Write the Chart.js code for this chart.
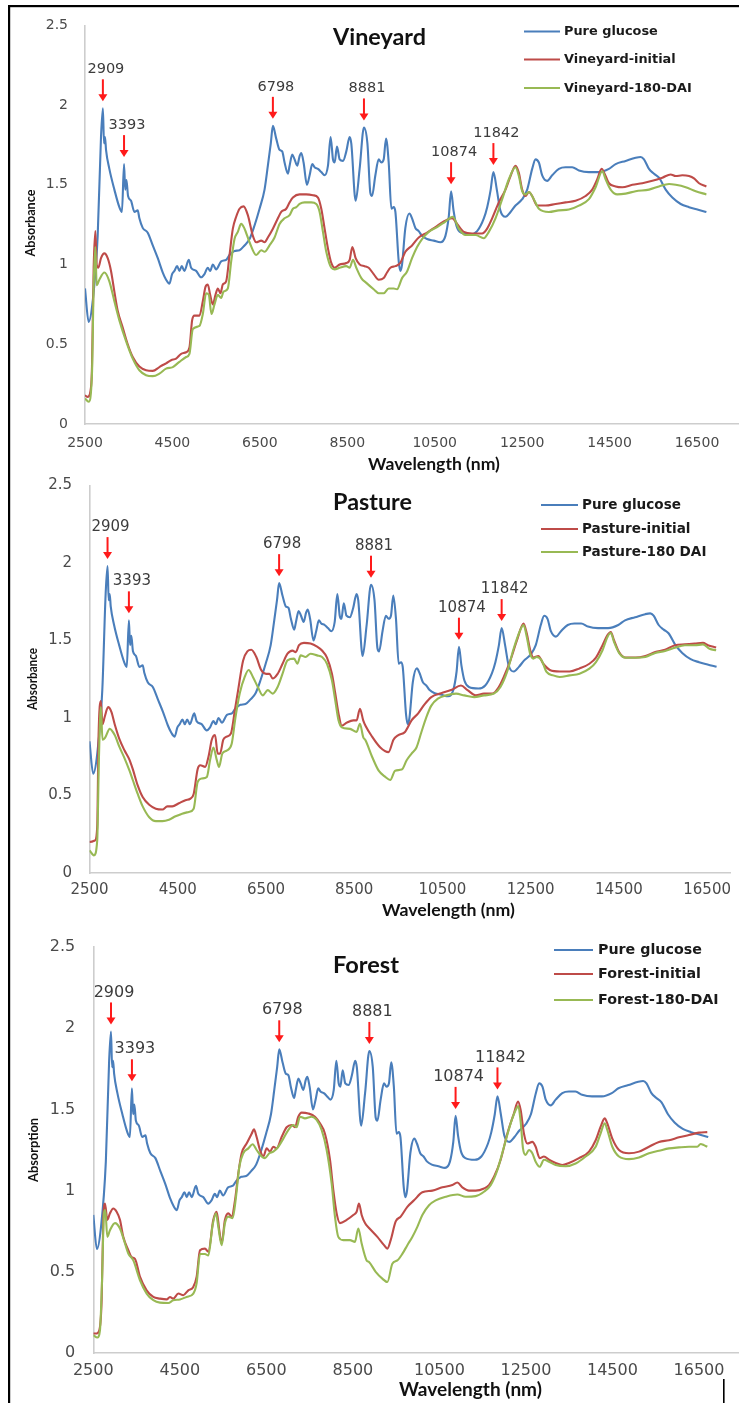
<!DOCTYPE html>
<html>
<head>
<meta charset="utf-8">
<script src="https://cdn.jsdelivr.net/npm/chart.js@4.4.1/dist/chart.umd.min.js"></script>
<style>
  html, body { margin: 0; padding: 0; background: #ffffff; }
  #page { position: relative; width: 739px; height: 1403px; overflow: hidden; background: #ffffff; }
  #page canvas { position: absolute; left: 0; top: 0; }
</style>
</head>
<body>
<div id="page">
  <canvas id="vineyard" width="739" height="1403"></canvas>
  <canvas id="pasture" width="739" height="1403"></canvas>
  <canvas id="forest" width="739" height="1403"></canvas>
</div>
<script>
// ---- axis ticks and marked glucose bands (nm) ----
const wavelengthTicks = [2500, 4500, 6500, 8500, 10500, 12500, 14500, 16500];
const absorbanceTicks = [0, 0.5, 1, 1.5, 2, 2.5];
const peakWavelengths = [2909, 3393, 6798, 8881, 10874, 11842];

// ---- spectra: [wavelength (nm), absorbance] ----
const pureGlucose = [
  [2500,0.85],[2584,0.64],[2676,0.77],[2790,1.18],[2866,1.80],[2909,1.98],[2935,1.76],[2958,1.80],
  [2981,1.72],[3057,1.60],[3172,1.47],[3286,1.36],[3345,1.33],[3393,1.63],[3420,1.47],[3448,1.53],
  [3485,1.43],[3553,1.40],[3630,1.33],[3706,1.34],[3744,1.29],[3820,1.23],[3935,1.20],[4050,1.12],
  [4165,1.04],[4279,0.95],[4355,0.905],[4431,0.88],[4492,0.94],[4545,0.96],[4607,0.99],[4660,0.96],
  [4714,0.99],[4775,0.96],[4874,1.03],[4927,0.98],[5042,0.96],[5157,0.92],[5233,0.94],[5309,0.98],
  [5363,0.96],[5424,1.00],[5500,0.97],[5615,1.02],[5729,1.03],[5805,1.06],[5920,1.085],[6035,1.09],
  [6149,1.12],[6264,1.16],[6378,1.245],[6493,1.35],[6607,1.47],[6683,1.62],[6750,1.76],[6798,1.87],
  [6874,1.79],[6950,1.72],[7011,1.71],[7065,1.64],[7141,1.57],[7180,1.62],[7241,1.69],[7294,1.66],
  [7355,1.62],[7409,1.68],[7447,1.70],[7500,1.64],[7577,1.50],[7638,1.56],[7699,1.63],[7752,1.61],
  [7829,1.60],[7905,1.58],[7981,1.56],[8058,1.62],[8118,1.80],[8172,1.66],[8210,1.64],[8264,1.74],
  [8325,1.66],[8401,1.65],[8477,1.71],[8553,1.80],[8591,1.76],[8691,1.40],[8782,1.60],[8881,1.86],
  [8960,1.76],[9027,1.45],[9065,1.43],[9142,1.56],[9218,1.66],[9279,1.64],[9333,1.66],[9386,1.79],
  [9447,1.64],[9508,1.35],[9561,1.36],[9600,1.33],[9676,1.02],[9714,0.96],[9752,1.00],[9828,1.23],
  [9920,1.32],[9981,1.29],[10057,1.23],[10134,1.21],[10210,1.18],[10325,1.16],[10478,1.15],[10630,1.14],
  [10745,1.18],[10821,1.30],[10874,1.46],[10930,1.34],[11000,1.24],[11100,1.20],[11318,1.19],[11470,1.21],
  [11623,1.29],[11700,1.36],[11780,1.47],[11842,1.58],[11920,1.47],[12000,1.34],[12119,1.30],[12234,1.33],
  [12348,1.37],[12500,1.41],[12615,1.47],[12729,1.60],[12806,1.66],[12882,1.64],[12958,1.56],[13073,1.525],
  [13187,1.56],[13340,1.60],[13492,1.61],[13645,1.61],[13798,1.59],[14027,1.58],[14256,1.58],[14485,1.60],
  [14638,1.63],[14867,1.65],[15096,1.67],[15210,1.675],[15287,1.66],[15401,1.60],[15516,1.57],[15630,1.545],
  [15783,1.47],[15935,1.42],[16126,1.38],[16317,1.36],[16508,1.345],[16714,1.33]
];

const vineyardInitial = [
  [2500,0.18],[2561,0.17],[2637,0.23],[2660,0.36],[2698,0.98],[2737,1.21],[2767,1.00],[2805,0.98],
  [2866,1.04],[2943,1.07],[3019,1.04],[3095,0.96],[3172,0.83],[3248,0.71],[3363,0.605],[3477,0.50],
  [3592,0.42],[3744,0.36],[3897,0.337],[4050,0.333],[4202,0.357],[4279,0.37],[4355,0.38],[4470,0.40],
  [4584,0.41],[4699,0.44],[4813,0.45],[4889,0.48],[4950,0.65],[5004,0.68],[5118,0.68],[5195,0.77],
  [5256,0.86],[5309,0.875],[5363,0.81],[5424,0.75],[5485,0.81],[5538,0.85],[5599,0.82],[5653,0.875],
  [5729,0.895],[5806,1.06],[5882,1.225],[5958,1.30],[6035,1.35],[6126,1.365],[6225,1.31],[6340,1.18],
  [6416,1.14],[6531,1.15],[6607,1.14],[6683,1.17],[6798,1.225],[6912,1.29],[6989,1.33],[7103,1.35],
  [7180,1.39],[7256,1.42],[7409,1.44],[7561,1.44],[7714,1.435],[7829,1.42],[7905,1.35],[7981,1.225],
  [8058,1.10],[8134,1.01],[8210,0.98],[8325,1.00],[8477,1.01],[8554,1.03],[8615,1.11],[8691,1.04],
  [8783,1.00],[8897,0.99],[8989,0.98],[9103,0.94],[9218,0.905],[9333,0.915],[9409,0.95],[9486,0.98],
  [9600,0.99],[9714,1.01],[9828,1.08],[9981,1.12],[10134,1.17],[10325,1.20],[10516,1.235],[10707,1.27],
  [10898,1.29],[11012,1.255],[11165,1.205],[11355,1.195],[11584,1.195],[11699,1.225],[11813,1.29],[11966,1.39],
  [12119,1.47],[12234,1.555],[12348,1.62],[12424,1.575],[12500,1.47],[12577,1.43],[12653,1.455],[12729,1.43],
  [12844,1.37],[13035,1.37],[13264,1.38],[13492,1.39],[13721,1.40],[13950,1.43],[14103,1.47],[14218,1.535],
  [14317,1.60],[14409,1.555],[14485,1.51],[14638,1.49],[14791,1.485],[15020,1.50],[15248,1.51],[15478,1.525],
  [15707,1.545],[15897,1.565],[16012,1.555],[16164,1.56],[16317,1.555],[16431,1.54],[16546,1.51],[16714,1.49]
];

const vineyard180DAI = [
  [2500,0.16],[2584,0.14],[2660,0.32],[2698,0.87],[2737,1.11],[2767,0.87],[2828,0.905],[2943,0.95],
  [3057,0.895],[3172,0.77],[3286,0.65],[3439,0.52],[3592,0.41],[3744,0.337],[3897,0.306],[4050,0.30],
  [4202,0.316],[4355,0.347],[4508,0.357],[4660,0.39],[4813,0.42],[4889,0.44],[4966,0.595],[5118,0.615],
  [5195,0.69],[5271,0.82],[5332,0.81],[5393,0.69],[5462,0.75],[5538,0.81],[5615,0.79],[5668,0.83],
  [5767,0.85],[5844,1.02],[5920,1.16],[5996,1.205],[6073,1.255],[6149,1.225],[6264,1.14],[6416,1.06],
  [6531,1.09],[6607,1.08],[6721,1.12],[6836,1.17],[6951,1.255],[7065,1.29],[7180,1.31],[7256,1.35],
  [7333,1.36],[7409,1.38],[7523,1.39],[7676,1.39],[7790,1.38],[7867,1.33],[7943,1.205],[8019,1.08],
  [8134,0.98],[8210,0.97],[8325,0.98],[8477,0.99],[8554,0.98],[8630,1.03],[8706,0.98],[8821,0.915],
  [8935,0.885],[9103,0.845],[9218,0.82],[9333,0.82],[9447,0.85],[9562,0.85],[9638,0.845],[9752,0.915],
  [9867,0.957],[9981,1.04],[10096,1.11],[10210,1.16],[10363,1.205],[10554,1.235],[10745,1.27],[10913,1.30],
  [11050,1.225],[11203,1.185],[11432,1.185],[11623,1.165],[11737,1.205],[11890,1.29],[12043,1.41],[12195,1.535],
  [12348,1.61],[12424,1.555],[12500,1.46],[12577,1.44],[12653,1.455],[12767,1.41],[12882,1.35],[13111,1.33],
  [13340,1.34],[13569,1.345],[13798,1.37],[14027,1.41],[14180,1.485],[14333,1.585],[14409,1.535],[14524,1.47],
  [14676,1.44],[14867,1.445],[15096,1.46],[15401,1.47],[15630,1.49],[15859,1.505],[16012,1.50],[16241,1.485],
  [16470,1.46],[16714,1.44]
];

const pastureInitial = [
  [2500,0.20],[2623,0.21],[2675,0.30],[2705,0.88],[2757,1.11],[2795,0.96],[2847,1.01],[2922,1.07],
  [2996,1.04],[3071,0.96],[3183,0.86],[3295,0.79],[3407,0.73],[3481,0.67],[3593,0.565],[3705,0.49],
  [3854,0.44],[4003,0.415],[4153,0.41],[4265,0.43],[4376,0.43],[4526,0.45],[4675,0.47],[4787,0.48],
  [4861,0.51],[4951,0.67],[5011,0.695],[5123,0.685],[5197,0.75],[5272,0.86],[5346,0.89],[5406,0.77],
  [5458,0.77],[5533,0.86],[5608,0.88],[5705,0.90],[5795,1.05],[5869,1.18],[5981,1.37],[6078,1.43],
  [6167,1.44],[6279,1.395],[6391,1.31],[6503,1.285],[6578,1.285],[6652,1.255],[6764,1.285],[6876,1.35],
  [6988,1.415],[7100,1.435],[7175,1.425],[7249,1.47],[7361,1.485],[7510,1.48],[7659,1.46],[7771,1.435],
  [7883,1.39],[7995,1.285],[8070,1.16],[8144,1.03],[8219,0.95],[8331,0.97],[8480,0.985],[8555,0.985],
  [8630,1.06],[8704,0.985],[8756,0.95],[8905,0.88],[9092,0.81],[9278,0.78],[9390,0.86],[9502,0.89],
  [9651,0.91],[9800,0.985],[9950,1.03],[10099,1.09],[10248,1.135],[10472,1.16],[10696,1.18],[10920,1.21],
  [11069,1.18],[11256,1.146],[11442,1.157],[11629,1.157],[11778,1.20],[11890,1.265],[12039,1.37],[12188,1.50],
  [12338,1.61],[12412,1.545],[12487,1.44],[12562,1.39],[12674,1.40],[12786,1.35],[12935,1.31],[13159,1.30],
  [13383,1.30],[13607,1.32],[13831,1.35],[13980,1.39],[14129,1.47],[14241,1.535],[14316,1.555],[14391,1.50],
  [14503,1.425],[14652,1.39],[14876,1.39],[15100,1.40],[15324,1.425],[15547,1.44],[15771,1.47],[15995,1.475],
  [16219,1.48],[16405,1.485],[16517,1.47],[16704,1.455]
];

const pasture180DAI = [
  [2500,0.146],[2601,0.114],[2675,0.21],[2713,0.73],[2757,1.07],[2795,0.86],[2847,0.87],[2959,0.93],
  [3071,0.89],[3183,0.81],[3295,0.74],[3407,0.66],[3481,0.60],[3593,0.51],[3705,0.43],[3854,0.36],
  [4003,0.335],[4153,0.335],[4302,0.344],[4451,0.366],[4600,0.383],[4750,0.394],[4861,0.415],[4951,0.587],
  [5048,0.61],[5160,0.62],[5234,0.73],[5309,0.81],[5384,0.73],[5436,0.685],[5510,0.77],[5608,0.79],
  [5720,0.83],[5809,1.005],[5906,1.16],[6018,1.265],[6107,1.31],[6204,1.265],[6316,1.20],[6428,1.146],
  [6540,1.18],[6652,1.157],[6764,1.20],[6876,1.286],[6988,1.372],[7137,1.383],[7212,1.35],[7287,1.404],
  [7399,1.394],[7510,1.415],[7659,1.404],[7771,1.394],[7883,1.35],[7995,1.243],[8070,1.114],[8144,0.985],
  [8219,0.94],[8406,0.93],[8555,0.91],[8630,0.963],[8704,0.877],[8756,0.856],[8905,0.75],[9055,0.66],
  [9204,0.62],[9316,0.60],[9428,0.66],[9577,0.667],[9689,0.727],[9800,0.77],[9912,0.81],[10024,0.91],
  [10136,1.006],[10248,1.08],[10397,1.125],[10584,1.146],[10808,1.157],[10994,1.146],[11218,1.135],[11442,1.146],
  [11666,1.157],[11815,1.20],[11965,1.297],[12114,1.447],[12263,1.566],[12338,1.60],[12412,1.523],[12487,1.415],
  [12562,1.383],[12636,1.394],[12748,1.372],[12860,1.297],[13010,1.275],[13159,1.265],[13383,1.275],[13607,1.286],
  [13831,1.318],[13980,1.361],[14129,1.437],[14241,1.523],[14316,1.548],[14391,1.49],[14503,1.42],[14652,1.389],
  [14876,1.389],[15100,1.394],[15324,1.42],[15547,1.432],[15771,1.454],[15995,1.469],[16219,1.469],[16405,1.475],
  [16554,1.447],[16704,1.437]
];

const forestInitial = [
  [2500,0.12],[2577,0.12],[2639,0.14],[2693,0.325],[2731,0.82],[2770,0.92],[2824,0.82],[2885,0.86],
  [2962,0.89],[3039,0.87],[3116,0.82],[3193,0.715],[3309,0.633],[3386,0.59],[3463,0.58],[3578,0.47],
  [3733,0.386],[3887,0.345],[4041,0.335],[4195,0.33],[4272,0.345],[4349,0.335],[4465,0.366],[4580,0.356],
  [4696,0.386],[4812,0.407],[4889,0.47],[4966,0.633],[5081,0.643],[5158,0.623],[5274,0.82],[5351,0.87],
  [5412,0.756],[5466,0.674],[5543,0.82],[5620,0.86],[5698,0.84],[5775,0.94],[5852,1.106],[5929,1.23],
  [6044,1.29],[6160,1.35],[6214,1.377],[6275,1.33],[6353,1.25],[6430,1.21],[6507,1.26],[6584,1.24],
  [6661,1.27],[6738,1.26],[6853,1.33],[6969,1.39],[7084,1.404],[7161,1.39],[7238,1.455],[7316,1.48],
  [7470,1.475],[7624,1.455],[7739,1.414],[7855,1.35],[7971,1.19],[8048,1.003],[8125,0.86],[8202,0.80],
  [8356,0.82],[8510,0.85],[8587,0.87],[8641,0.92],[8703,0.85],[8780,0.80],[8873,0.77],[9066,0.715],
  [9220,0.664],[9297,0.643],[9374,0.695],[9490,0.81],[9605,0.84],[9759,0.90],[9913,0.94],[10106,0.99],
  [10337,1.00],[10568,1.02],[10799,1.034],[10915,1.05],[11030,1.02],[11184,1.00],[11338,1.00],[11531,1.013],
  [11646,1.034],[11762,1.085],[11916,1.19],[12070,1.35],[12224,1.476],[12317,1.548],[12378,1.496],[12455,1.35],
  [12532,1.29],[12648,1.30],[12725,1.27],[12817,1.20],[12917,1.21],[13033,1.19],[13187,1.17],[13341,1.157],
  [13495,1.17],[13726,1.20],[13958,1.24],[14112,1.31],[14227,1.394],[14320,1.445],[14381,1.414],[14497,1.32],
  [14651,1.25],[14882,1.23],[15113,1.24],[15344,1.27],[15575,1.30],[15806,1.31],[16037,1.328],[16268,1.342],
  [16499,1.357],[16692,1.36]
];

const forest180DAI = [
  [2500,0.11],[2592,0.095],[2654,0.14],[2700,0.43],[2747,0.86],[2777,0.88],[2824,0.715],[2885,0.756],
  [3001,0.80],[3116,0.767],[3209,0.695],[3309,0.613],[3425,0.57],[3579,0.448],[3733,0.366],[3887,0.325],
  [4041,0.31],[4234,0.308],[4349,0.325],[4503,0.33],[4657,0.345],[4812,0.366],[4889,0.43],[4966,0.61],
  [5081,0.61],[5158,0.60],[5258,0.787],[5335,0.86],[5389,0.777],[5466,0.664],[5543,0.80],[5620,0.84],
  [5721,0.83],[5798,0.96],[5875,1.147],[5967,1.23],[6083,1.26],[6183,1.285],[6275,1.25],[6391,1.21],
  [6468,1.20],[6568,1.23],[6661,1.24],[6776,1.27],[6892,1.32],[7007,1.373],[7123,1.404],[7200,1.39],
  [7277,1.455],[7393,1.445],[7547,1.455],[7662,1.435],[7778,1.373],[7894,1.25],[8009,1.044],[8086,0.84],
  [8163,0.715],[8279,0.695],[8433,0.695],[8548,0.684],[8625,0.767],[8703,0.674],[8818,0.57],[8873,0.56],
  [9027,0.50],[9181,0.458],[9297,0.437],[9412,0.55],[9528,0.57],[9643,0.61],[9759,0.664],[9874,0.715],
  [9990,0.777],[10106,0.85],[10260,0.91],[10413,0.94],[10645,0.962],[10915,0.976],[11107,0.962],[11338,0.966],
  [11531,0.993],[11685,1.034],[11839,1.126],[11993,1.27],[12147,1.414],[12263,1.496],[12324,1.52],[12378,1.424],
  [12432,1.26],[12493,1.22],[12570,1.25],[12648,1.23],[12725,1.178],[12817,1.147],[12917,1.19],[13033,1.178],
  [13187,1.157],[13418,1.15],[13649,1.167],[13880,1.21],[14112,1.27],[14227,1.353],[14320,1.414],[14381,1.373],
  [14497,1.27],[14651,1.21],[14882,1.194],[15113,1.204],[15344,1.23],[15575,1.245],[15806,1.26],[16037,1.266],
  [16268,1.27],[16461,1.27],[16538,1.287],[16615,1.28],[16692,1.27]
];

// ---- styling ----
const GLUCOSE_COLOR = '#4a7ebb';
const INITIAL_COLOR = '#be4b48';
const DAI_COLOR = '#98b954';
const TICK_COLOR = '#4a4a4a';
const AXIS_COLOR = '#cdcdcd';
const ARROW_COLOR = '#ff1a1a';
const PAGE_H = 1403;

const panels = [
  {
    id: 'vineyard', title: 'Vineyard', yTitle: 'Absorbance',
    names: ['Pure glucose', 'Vineyard-initial', 'Vineyard-180-DAI'],
    series: [pureGlucose, vineyardInitial, vineyard180DAI],
    area: { left: 85, top: 22, right: 739, bottom: 424 }, xMax: 17460,
    tickSize: 14, xTickPad: 10.5, yTickPad: 17,
    titleBox: { x: 379.5, y: 37, w: 93 },
    legend: { x0: 524, x1: 560, tx: 564, rows: [31.5, 59.5, 88], w: 94 },
    yTitleBox: { x: 30, y: 223, w: 67, size: 14 },
    xTitleBox: { x: 434, y: 464, w: 132 },
    markSize: 14.5, frame: true
  },
  {
    id: 'pasture', title: 'Pasture', yTitle: 'Absorbance',
    names: ['Pure glucose', 'Pasture-initial', 'Pasture-180 DAI'],
    series: [pureGlucose, pastureInitial, pasture180DAI],
    area: { left: 89.5, top: 485.5, right: 739, bottom: 873 }, xMax: 17037,
    tickSize: 15, xTickPad: 8, yTickPad: 17.5,
    titleBox: { x: 372.5, y: 502, w: 79 },
    legend: { x0: 541, x1: 578, tx: 582, rows: [505, 529, 552], w: 99 },
    yTitleBox: { x: 33, y: 679, w: 62, size: 13.5 },
    xTitleBox: { x: 448.5, y: 910, w: 133 },
    markSize: 15
  },
  {
    id: 'forest', title: 'Forest', yTitle: 'Absorption',
    names: ['Pure glucose', 'Forest-initial', 'Forest-180-DAI'],
    series: [pureGlucose, forestInitial, forest180DAI],
    area: { left: 93.3, top: 947, right: 739, bottom: 1353 }, xMax: 17425,
    tickSize: 16, xTickPad: 8.5, yTickPad: 18,
    titleBox: { x: 366, y: 965, w: 66 },
    legend: { x0: 554, x1: 593, tx: 598, rows: [950, 974, 1000], w: 104 },
    yTitleBox: { x: 33, y: 1150, w: 64, size: 14 },
    xTitleBox: { x: 470.5, y: 1390, w: 143 },
    markSize: 16
  }
];

// font size that makes `text` span `width` pixels
function fittedSize(ctx, text, width, weight, family) {
  ctx.font = weight + ' 100px ' + family;
  return 100 * width / ctx.measureText(text).width;
}

function highestNear(series, wl, span) {
  let best = -Infinity;
  for (const [x, y] of series) if (Math.abs(x - wl) <= span && y > best) best = y;
  return best;
}

const decorPlugin = {
  id: 'panelDecor',
  afterDatasetsDraw(chart, args, opts) {
    const p = opts.panel;
    const ctx = chart.ctx;
    const xs = chart.scales.x, ys = chart.scales.y;
    ctx.save();

    // page frame
    if (p.frame) {
      ctx.fillStyle = '#000';
      ctx.fillRect(8, 5, 731, 2.2);
      ctx.fillRect(8, 5, 2.2, PAGE_H - 5);
      ctx.fillRect(723, 1379, 1.6, PAGE_H - 1379);
    }

    // peak markers on the glucose spectrum
    const markFont = p.markSize + 'px "DejaVu Sans"';
    peakWavelengths.forEach(wl => {
      const px = xs.getPixelForValue(wl);
      const tip = ys.getPixelForValue(highestNear(p.series[0], wl, 40)) - 7;
      const top = tip - 22;
      ctx.strokeStyle = ARROW_COLOR;
      ctx.fillStyle = ARROW_COLOR;
      ctx.lineWidth = 2;
      ctx.beginPath();
      ctx.moveTo(px, top);
      ctx.lineTo(px, tip - 6);
      ctx.stroke();
      ctx.beginPath();
      ctx.moveTo(px - 4.5, tip - 7);
      ctx.lineTo(px + 4.5, tip - 7);
      ctx.lineTo(px, tip);
      ctx.closePath();
      ctx.fill();
      ctx.fillStyle = '#3c3c3c';
      ctx.font = markFont;
      ctx.textAlign = 'center';
      ctx.textBaseline = 'middle';
      ctx.fillText(String(wl), px + 3, top - 10);
    });

    // chart title
    const tb = p.titleBox;
    const ts = fittedSize(ctx, p.title, tb.w, 'bold', 'Lato');
    ctx.font = 'bold ' + ts + 'px Lato';
    ctx.fillStyle = '#111';
    ctx.textAlign = 'center';
    ctx.textBaseline = 'middle';
    ctx.fillText(p.title, tb.x, tb.y);

    // legend
    const lg = p.legend;
    const colors = [GLUCOSE_COLOR, INITIAL_COLOR, DAI_COLOR];
    const ls = fittedSize(ctx, p.names[0], lg.w, 'bold', '"DejaVu Sans"');
    p.names.forEach((name, i) => {
      const y = lg.rows[i];
      ctx.strokeStyle = colors[i];
      ctx.lineWidth = 2.2;
      ctx.beginPath();
      ctx.moveTo(lg.x0, y);
      ctx.lineTo(lg.x1, y);
      ctx.stroke();
      ctx.font = 'bold ' + ls + 'px "DejaVu Sans"';
      ctx.fillStyle = '#1a1a1a';
      ctx.textAlign = 'left';
      ctx.textBaseline = 'middle';
      ctx.fillText(name, lg.tx, y + 0.5);
    });

    // axis titles
    const xt = p.xTitleBox;
    const xsz = fittedSize(ctx, 'Wavelength (nm)', xt.w, 'bold', 'Lato');
    ctx.font = 'bold ' + xsz + 'px Lato';
    ctx.fillStyle = '#111';
    ctx.textAlign = 'center';
    ctx.textBaseline = 'middle';
    ctx.fillText('Wavelength (nm)', xt.x, xt.y);

    // vertical title: condensed bold face, squeezed to its length
    const yt = p.yTitleBox;
    ctx.font = 'bold ' + yt.size + 'px Lato';
    const squeeze = yt.w / ctx.measureText(p.yTitle).width;
    ctx.translate(yt.x, yt.y);
    ctx.rotate(-Math.PI / 2);
    ctx.scale(squeeze, 1);
    ctx.fillText(p.yTitle, 0, 0);
    ctx.restore();
  }
};

panels.forEach(p => {
  const colors = [GLUCOSE_COLOR, INITIAL_COLOR, DAI_COLOR];
  const datasets = p.series.map((s, i) => ({
    label: p.names[i],
    data: s.map(([x, y]) => ({ x, y })),
    borderColor: colors[i],
    borderWidth: 2.1,
    pointRadius: 0,
    fill: false,
    cubicInterpolationMode: 'monotone',
    order: 3 - i
  }));
  const tickFont = { family: '"DejaVu Sans"', size: p.tickSize };
  new Chart(document.getElementById(p.id), {
    type: 'line',
    data: { datasets },
    plugins: [decorPlugin],
    options: {
      responsive: false,
      animation: false,
      events: [],
      devicePixelRatio: 1,
      layout: { padding: { top: p.area.top, left: 0, right: 739 - p.area.right, bottom: 0 } },
      plugins: {
        legend: { display: false },
        tooltip: { enabled: false },
        title: { display: false },
        panelDecor: { panel: p }
      },
      scales: {
        x: {
          type: 'linear', min: 2500, max: p.xMax,
          afterBuildTicks: s => { s.ticks = wavelengthTicks.map(v => ({ value: v })); },
          afterFit: s => { s.height = PAGE_H - p.area.bottom; },
          grid: { drawOnChartArea: false, drawTicks: false },
          border: { display: true, color: AXIS_COLOR, width: 1.6 },
          ticks: { padding: p.xTickPad, font: tickFont, color: TICK_COLOR, maxRotation: 0, autoSkip: false,
                   callback: v => String(v) }
        },
        y: {
          type: 'linear', min: 0, max: 2.5,
          afterBuildTicks: s => { s.ticks = absorbanceTicks.map(v => ({ value: v })); },
          afterFit: s => { s.width = p.area.left; },
          grid: { drawOnChartArea: false, drawTicks: false },
          border: { display: true, color: AXIS_COLOR, width: 1.6 },
          ticks: { padding: p.yTickPad, font: tickFont, color: TICK_COLOR, callback: v => String(v) }
        }
      }
    }
  });
});
</script>
</body>
</html>
